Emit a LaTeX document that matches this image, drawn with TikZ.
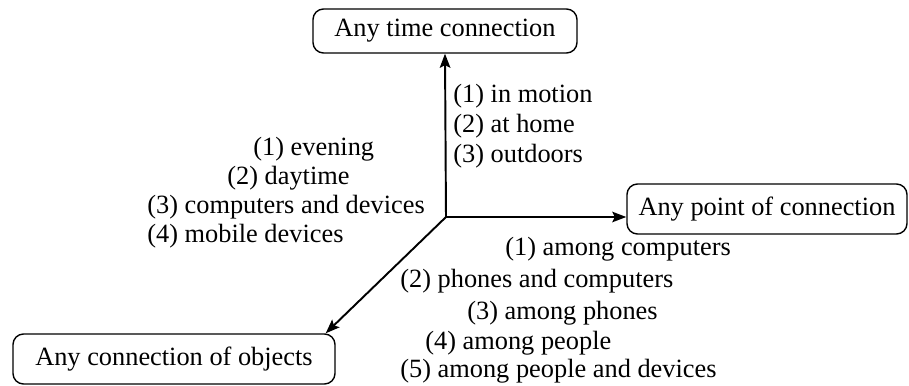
\documentclass[tikz,border=0pt]{standalone}
\usepackage{fontspec}
\setmainfont{Liberation Serif}
\usetikzlibrary{calc,positioning,arrows.meta}

\begin{document}
\begin{tikzpicture}[font=\fontsize{15}{18}\selectfont]
        \useasboundingbox (-8.92,-3.36) rectangle (9.26,4.34);
        % Axes origin
        \coordinate (O) at (0,0);
        % Corner boxes
        \node[draw,rounded corners=6pt,line width=0.8pt,minimum width=5.28cm,minimum height=0.88cm](time) at (-0.02,3.72){Any time connection};
        \node[draw,rounded corners=6pt,line width=0.8pt,minimum width=5.6cm,minimum height=1.0cm](point) at (6.42,0.16){Any point of connection};
        \node[draw,rounded corners=6pt,line width=0.8pt,minimum width=6.44cm,minimum height=1.0cm](objects) at (-5.44,-2.84){Any connection of objects};
        % Axes
        \draw [-{Stealth[length=8pt,width=6pt,inset=1.5pt]},line width=1.1pt](O)--(time.south);
        \draw [-{Stealth[length=8pt,width=6pt,inset=1.5pt]},line width=1.1pt](O)--(O -| point.west);
        \draw [-{Stealth[length=8pt,width=6pt,inset=1.5pt]},line width=1.1pt](O)--($(objects.north east)+(-0.2,0)$);
        % Time labels
        \node[anchor=base west,inner sep=0pt](t1) at (0.14,2.30){(1) in motion};
        \node[anchor=base west,inner sep=0pt](t2) at (0.14,1.70){(2) at home};
        \node[anchor=base west,inner sep=0pt](t3) at (0.14,1.10){(3) outdoors};
        % Object labels
        \node[anchor=base west,inner sep=0pt](o1) at (-3.86,1.24){(1) evening};
        \node[anchor=base west,inner sep=0pt](o2) at (-4.38,0.66){(2) daytime};
        \node[anchor=base west,inner sep=0pt](o3) at (-5.98,0.08){(3) computers and devices};
        \node[anchor=base west,inner sep=0pt](o4) at (-5.98,-0.50){(4) mobile devices};
        % Point labels
        \node[anchor=base west,inner sep=0pt](p1) at (1.18,-0.76){(1) among computers};
        \node[anchor=base west,inner sep=0pt](p2) at (-0.92,-1.40){(2) phones and computers};
        \node[anchor=base west,inner sep=0pt](p3) at (0.42,-2.04){(3) among phones};
        \node[anchor=base west,inner sep=0pt](p4) at (-0.42,-2.64){(4) among people};
        \node[anchor=base west,inner sep=0pt](p5) at (-0.92,-3.20){(5) among people and devices};
\end{tikzpicture}
\end{document}
